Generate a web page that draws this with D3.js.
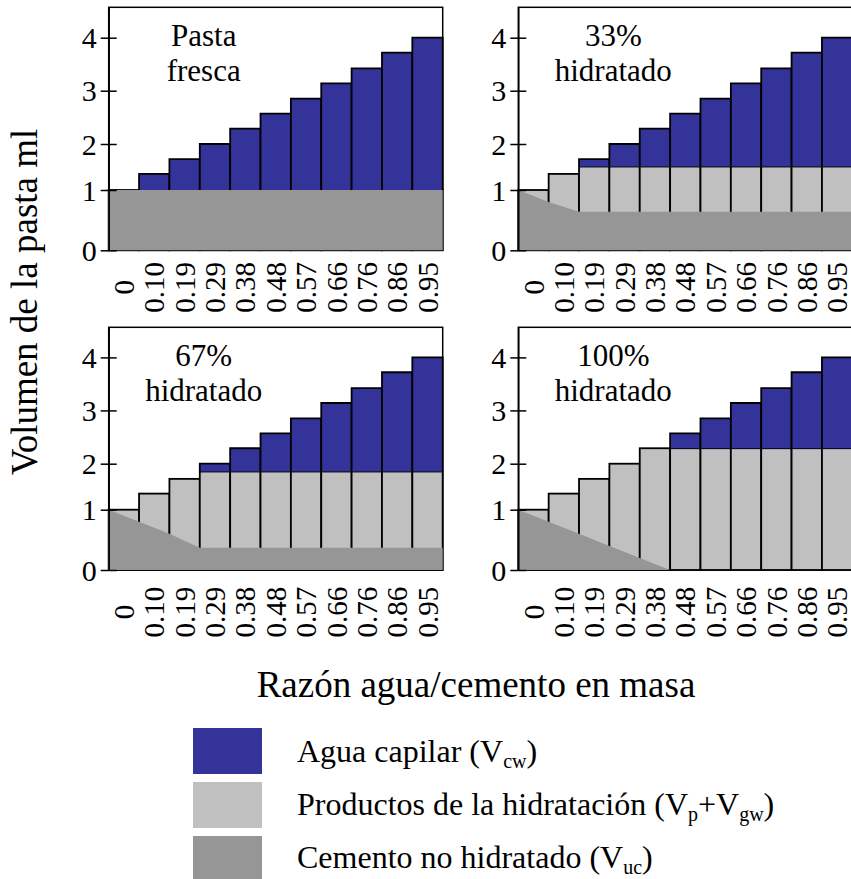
<!DOCTYPE html>
<html><head><meta charset="utf-8">
<script src="https://cdn.jsdelivr.net/npm/d3@7"></script>
<style>
html,body{margin:0;padding:0;background:#fff;}
svg{display:block;}
</style></head>
<body><svg id="chart" width="851" height="879"></svg>
<script>
// ---------- data ----------
const categories = ["0","0.10","0.19","0.29","0.38","0.48","0.57","0.66","0.76","0.86","0.95"];
const yTicks = [0,1,2,3,4];
const yTop = 4.57;
// total paste volume (top of each bar)
const pasteVolume = [1.00,1.35,1.67,2.00,2.29,2.57,2.85,3.14,3.42,3.72,4.00];
// top of solids (cement + hydration products) for each bar, per panel
const solidsFresh = [1.00,1.00,1.00,1.00,1.00,1.00,1.00,1.00,1.00,1.00,1.00];
const solids33    = [1.00,1.35,1.51,1.51,1.51,1.51,1.51,1.51,1.51,1.51,1.51];
const solids67    = [1.00,1.35,1.67,1.83,1.83,1.83,1.83,1.83,1.83,1.83,1.83];
const solids100   = [1.00,1.35,1.67,2.00,2.29,2.29,2.29,2.29,2.29,2.29,2.29];
// unhydrated cement at bar boundaries (12 boundaries)
const cementFresh = [1,1,1,1,1,1,1,1,1,1,1,1];
const cement33    = [1,0.80,0.64,0.64,0.64,0.64,0.64,0.64,0.64,0.64,0.64,0.64];
const cement67    = [1,0.80,0.60,0.37,0.37,0.37,0.37,0.37,0.37,0.37,0.37,0.37];
const cement100   = [1,0.80,0.60,0.40,0.20,0,0,0,0,0,0,0];
const panelTitles = [["Pasta","fresca"],["33%","hidratado"],["67%","hidratado"],["100%","hidratado"]];
const legendLabels = [
  {main:"Agua capilar (V", parts:[["cw",true],[")",false]]},
  {main:"Productos de la hidratación (V", parts:[["p",true],["+V",false],["gw",true],[")",false]]},
  {main:"Cemento no hidratado (V", parts:[["uc",true],[")",false]]}
];
const xTitle = "Razón agua/cemento en masa";
const yTitle = "Volumen de la pasta ml";

// ---------- styles / layout ----------
const FONT = "'Liberation Serif', 'Times New Roman', serif";
const colWater = "#343399", colProd = "#c0c0c0", colCement = "#969696";
const panels = [
  {left:108.7, top:7.3,   y0:250.3, labOff:37, solids:solidsFresh, cement:cementFresh, title:panelTitles[0]},
  {left:518.3, top:7.3,   y0:250.3, labOff:37, solids:solids33,    cement:cement33,    title:panelTitles[1]},
  {left:108.7, top:327.3, y0:570,   labOff:42, solids:solids67,    cement:cement67,    title:panelTitles[2]},
  {left:518.3, top:327.3, y0:570,   labOff:42, solids:solids100,   cement:cement100,   title:panelTitles[3]}
];
const pw = 334;

const svg = d3.select("#chart");

panels.forEach(p => {
  const g = svg.append("g");
  const x = d3.scaleBand().domain(categories).range([p.left, p.left + pw]).padding(0);
  const xb = d3.scaleLinear().domain([0, categories.length]).range([p.left, p.left + pw]);
  // piecewise scale following the original drawing's tick placement
  const y = d3.scaleLinear()
    .domain([0,1,2,3,4,yTop])
    .range([p.y0, p.y0-60.3, p.y0-106.3, p.y0-159.6, p.y0-212.6, p.top]);

  // frame
  g.append("rect").attr("x", p.left).attr("y", p.top)
    .attr("width", pw).attr("height", p.y0 - p.top)
    .attr("fill","none").attr("stroke","#000").attr("stroke-width",1.5);

  // solids bars (light grey)
  g.selectAll(".s").data(categories).join("rect")
    .attr("x", d => x(d)).attr("width", x.bandwidth())
    .attr("y", (d,i) => y(p.solids[i]))
    .attr("height", (d,i) => y(0) - y(p.solids[i]))
    .attr("fill", colProd).attr("stroke","#000").attr("stroke-width",1.8);

  // capillary water (blue)
  g.selectAll(".w").data(categories.filter((d,i)=>pasteVolume[i] > p.solids[i]+1e-9)).join("path")
    .attr("d", d => {
      const i = categories.indexOf(d);
      const x0 = x(d), x1 = x(d) + x.bandwidth();
      const yt = y(pasteVolume[i]), yb = y(p.solids[i]);
      return `M${x0},${yb}V${yt}H${x1}V${yb}`;
    })
    .attr("fill", colWater).attr("stroke","#000").attr("stroke-width",1.8);

  // unhydrated cement
  const area = d3.area().x((d,i) => xb(i)).y0(y(0)).y1(d => y(d));
  g.append("path").datum(p.cement).attr("d", area).attr("fill", colCement);

  // y axis
  const ya = g.append("g").attr("transform", `translate(${p.left},0)`)
    .call(d3.axisLeft(y).tickValues(yTicks).tickFormat(d3.format("d")).tickSizeOuter(0).tickSizeInner(8).tickPadding(4));
  ya.select(".domain").attr("stroke-width",1.5);
  ya.selectAll(".tick line").attr("x1", 8).attr("x2", -8).attr("stroke-width",1.5);
  ya.selectAll(".tick text").style("font-family", FONT).style("font-size","30px").attr("dy","0.34em").attr("fill","#000");

  // x axis labels
  const xa = g.append("g").attr("transform", `translate(0,${p.y0})`)
    .call(d3.axisBottom(x).tickSize(0));
  xa.select(".domain").remove();
  xa.selectAll(".tick text")
    .style("font-family", FONT).style("font-size","29px").attr("fill","#000")
    .attr("x",0).attr("y",0).attr("dy","0.35em")
    .attr("text-anchor","middle")
    .attr("transform", `translate(0,${p.labOff}) rotate(-90)`);

  // panel title
  const cx = p.left + 95;
  p.title.forEach((t,k) => {
    g.append("text").attr("x", cx).attr("y", p.top + 38.4 + k*35.3)
      .attr("text-anchor","middle").style("font-family", FONT).style("font-size","31px").text(t);
  });
});

// axis titles
svg.append("text").attr("transform","translate(37,302) rotate(-90)")
  .attr("text-anchor","middle").style("font-family", FONT).style("font-size","37px").text(yTitle);
svg.append("text").attr("x",476).attr("y",697)
  .attr("text-anchor","middle").style("font-family", FONT).style("font-size","37px").text(xTitle);

// legend
const legColors = [colWater, colProd, colCement];
legendLabels.forEach((l,i) => {
  svg.append("rect").attr("x",193).attr("y",728 + i*54).attr("width",69).attr("height",46).attr("fill",legColors[i]);
  const t = svg.append("text").attr("x",297).attr("y",762 + i*53)
    .style("font-family", FONT).style("font-size","32px");
  t.append("tspan").text(l.main);
  l.parts.forEach(([s,sub]) => {
    if (sub) t.append("tspan").style("font-size","20px").attr("dy",6).text(s);
    else t.append("tspan").attr("dy",-6).text(s);
  });
});
</script></body></html>
